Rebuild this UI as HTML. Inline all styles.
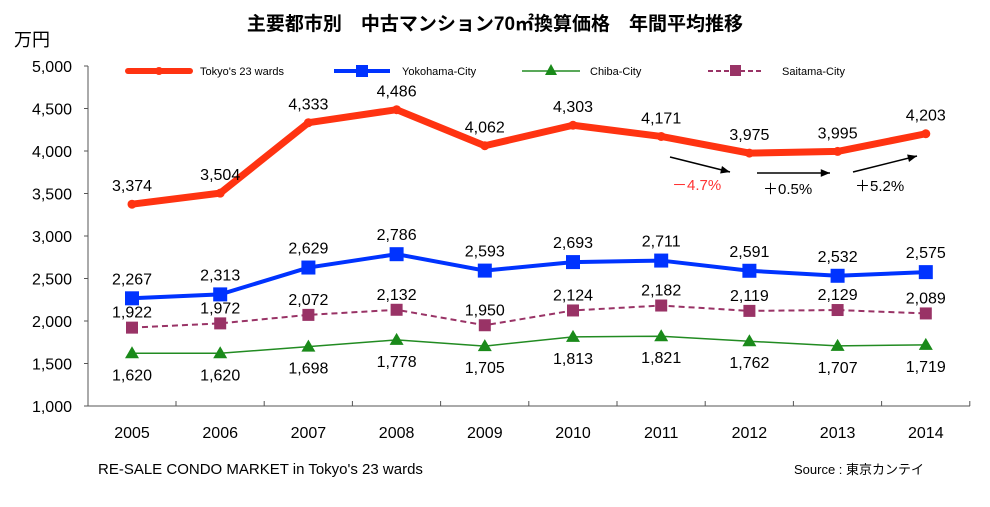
<!DOCTYPE html>
<html><head><meta charset="utf-8"><style>
body{margin:0;background:#fff;width:990px;height:502px;overflow:hidden}
svg text{font-family:"Liberation Sans","Noto Sans CJK JP",sans-serif}
</style></head><body>
<svg id="c" width="990" height="502" xmlns="http://www.w3.org/2000/svg">
<text x="495" y="30" text-anchor="middle" font-size="19" font-weight="bold" font-family="'Noto Sans CJK JP',sans-serif">主要都市別　中古マンション70㎡換算価格　年間平均推移</text>
<text x="14" y="46" font-size="18" font-family="'Noto Sans CJK JP',sans-serif">万円</text>
<text x="98" y="474" font-size="15">RE-SALE CONDO MARKET in Tokyo's 23 wards</text>
<text x="794" y="474" font-size="13">Source : 東京カンテイ</text>
<g id="g"></g>
</svg>
<script>
const g=document.getElementById('g');let s='';
const X=i=>132+i*88.2, Y=v=>406-(v-1000)*340/4000;
s+=`<line x1="88" y1="66" x2="88" y2="406" stroke="#555" stroke-width="1"/><line x1="88" y1="406" x2="970" y2="406" stroke="#555"/>`;
for(let k=0;k<=8;k++){const v=1000+k*500,y=Y(v);s+=`<line x1="84" y1="${y}" x2="88" y2="${y}" stroke="#555"/><text x="72" y="${y+6}" text-anchor="end" font-size="16">${v.toLocaleString('en')}</text>`;}
for(let i=0;i<10;i++){const x=X(i);s+=`<line x1="${x+44}" y1="401" x2="${x+44}" y2="406" stroke="#555"/><text x="${x}" y="438" text-anchor="middle" font-size="16">${2005+i}</text>`;}
const T=[3374,3504,4333,4486,4062,4303,4171,3975,3995,4203],Yk=[2267,2313,2629,2786,2593,2693,2711,2591,2532,2575],C=[1620,1620,1698,1778,1705,1813,1821,1762,1707,1719],S=[1922,1972,2072,2132,1950,2124,2182,2119,2129,2089];
const pts=a=>a.map((v,i)=>X(i)+','+Y(v)).join(' ');
s+=`<polyline points="${pts(S)}" fill="none" stroke="#993366" stroke-width="2" stroke-dasharray="6,4"/>`;
S.forEach((v,i)=>s+=`<rect x="${X(i)-6}" y="${Y(v)-6}" width="12" height="12" fill="#993366"/>`);
s+=`<polyline points="${pts(C)}" fill="none" stroke="#228B22" stroke-width="1.5"/>`;
C.forEach((v,i)=>s+=`<polygon points="${X(i)},${Y(v)-7} ${X(i)-7},${Y(v)+5} ${X(i)+7},${Y(v)+5}" fill="#1a8a1a"/>`);
s+=`<polyline points="${pts(Yk)}" fill="none" stroke="#0033ff" stroke-width="4"/>`;
Yk.forEach((v,i)=>s+=`<rect x="${X(i)-7}" y="${Y(v)-7}" width="14" height="14" fill="#0033ff"/>`);
s+=`<polyline points="${pts(T)}" fill="none" stroke="#ff3311" stroke-width="7" stroke-linejoin="round"/>`;
T.forEach((v,i)=>s+=`<circle cx="${X(i)}" cy="${Y(v)}" r="4.5" fill="#ff3311"/>`);
const lab=(a,dy)=>a.forEach((v,i)=>s+=`<text x="${X(i)}" y="${Y(v)+dy}" text-anchor="middle" font-size="16">${v.toLocaleString('en')}</text>`);
lab(T,-13);lab(Yk,-14);lab(S,-10);lab(C,27);
s+=`<line x1="128" y1="71" x2="190" y2="71" stroke="#ff3311" stroke-width="6" stroke-linecap="round"/><circle cx="159" cy="71" r="4" fill="#ff3311"/><text x="200" y="75" font-size="11">Tokyo's 23 wards</text>`;
s+=`<line x1="334" y1="71" x2="390" y2="71" stroke="#0033ff" stroke-width="4"/><rect x="356" y="65" width="12" height="12" fill="#0033ff"/><text x="402" y="75" font-size="11">Yokohama-City</text>`;
s+=`<line x1="522" y1="71" x2="580" y2="71" stroke="#228B22" stroke-width="1.5"/><polygon points="551,64 545,75 557,75" fill="#1a8a1a"/><text x="590" y="75" font-size="11">Chiba-City</text>`;
s+=`<line x1="708" y1="71" x2="764" y2="71" stroke="#993366" stroke-width="2" stroke-dasharray="5,3"/><rect x="730" y="65" width="11" height="11" fill="#993366"/><text x="782" y="75" font-size="11">Saitama-City</text>`;
const ar=(x1,y1,x2,y2)=>{const a=Math.atan2(y2-y1,x2-x1),l=10;s+=`<line x1="${x1}" y1="${y1}" x2="${x2}" y2="${y2}" stroke="#000" stroke-width="1.5"/><polygon points="${x2},${y2} ${x2-l*Math.cos(a-0.4)},${y2-l*Math.sin(a-0.4)} ${x2-l*Math.cos(a+0.4)},${y2-l*Math.sin(a+0.4)}" fill="#000"/>`;};
ar(670,157,730,172);ar(757,173,830,173);ar(853,172,917,156);
s+=`<text x="672" y="190" font-size="15" fill="#ff3333">－4.7%</text><text x="763" y="194" font-size="15">＋0.5%</text><text x="855" y="191" font-size="15">＋5.2%</text>`;
g.innerHTML=s;
</script>
</body></html>
